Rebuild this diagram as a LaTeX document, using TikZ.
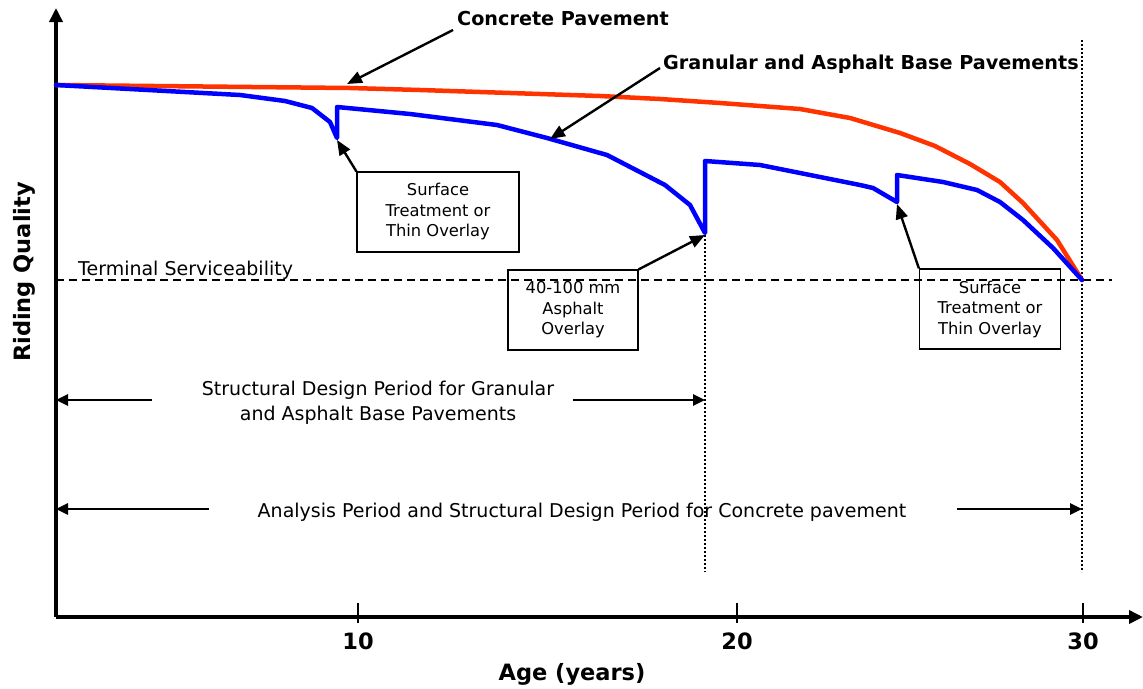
\documentclass[tikz,border=0pt]{standalone}
\usepackage{fontspec}
\setmainfont{DejaVu Sans}
\usetikzlibrary{arrows.meta}
\definecolor{rigid}{RGB}{255,51,0}
\definecolor{flex}{RGB}{0,0,255}
\begin{document}
\begin{tikzpicture}[x=1pt,y=-1pt,
  axis/.style={line width=4.5pt,-{Triangle[length=14pt,width=13pt]}},
  tickmark/.style={line width=2pt},
  curve/.style={line width=4.5pt,line join=round,line cap=round},
  boxtxt/.style={font=\fontsize{16.3}{20.5}\selectfont,align=center,inner sep=0pt},
  txt/.style={font=\fontsize{19}{25}\selectfont,align=center,inner sep=0pt},
  boldtxt/.style={font=\bfseries\fontsize{19.2}{22}\selectfont,inner sep=0pt},
  axistxt/.style={font=\bfseries\fontsize{22.5}{26}\selectfont,inner sep=0pt},
  callout/.style={draw,line width=1.2pt,boxtxt,minimum height=80pt},
  pointer/.style={line width=2.4pt,-{Triangle[length=15pt,width=12pt]}},
  span/.style={line width=2.8pt,-{Triangle[length=12pt,width=11pt]}},
  serviceline/.style={line width=2pt,dash pattern=on 8pt off 5pt},
  yearline/.style={line width=2.5pt,dash pattern=on 2pt off 2pt}]
\useasboundingbox (0,0) rectangle (1143,688);

% axes
\coordinate (origin) at (56,617);
\coordinate (ytop) at (56,8);
\coordinate (xend) at (1143,617);
\draw[axis] (origin) -- (ytop);
\draw[axis] (origin) -- (xend);

% ticks and tick labels
\foreach \x/\lab in {358/10,737/20,1083/30}{
  \draw[tickmark] (\x,603) -- (\x,623);
  \node[axistxt] (tick\lab) at (\x,641) {\lab};
}
\node[axistxt] (xlabel) at (572,674) {Age (years)};
\node[axistxt,rotate=90] (ylabel) at (24,272) {Riding Quality};

% terminal serviceability
\coordinate (ts0) at (56,280);
\coordinate (ts1) at (1112,280);
\draw[serviceline] (ts0) -- (ts1);
\node[txt,anchor=base west] (tslabel) at (78,275) {Terminal Serviceability};

% end-of-period markers
\coordinate (p20top) at (705,235);
\coordinate (p20bot) at (705,572);
\coordinate (p30top) at (1082,40);
\coordinate (p30bot) at (1082,572);
\draw[yearline] (p20top) -- (p20bot);
\draw[yearline] (p30top) -- (p30bot);

% concrete pavement
\draw[curve,rigid] (56,85) -- (350,88) -- (420,90) -- (600,96) -- (660,99)
  -- (720,103) -- (800,109) -- (850,118) -- (900,133) -- (935,146)
  -- (970,164) -- (1000,182) -- (1023,203) -- (1057,240) -- (1082,280);

% granular and asphalt base pavements
\draw[curve,flex] (56,85) -- (240,95) -- (285,101) -- (312,108) -- (330,122)
  -- (337,138) -- (337,107) -- (410,114) -- (497,125) -- (547,138)
  -- (607,155) -- (665,185) -- (690,205) -- (705,233) -- (705,161)
  -- (760,165) -- (860,185) -- (873,188) -- (897,202) -- (897,175)
  -- (943,182) -- (977,190) -- (1000,202) -- (1023,220) -- (1053,248)
  -- (1082,280);

% points on the curves
\coordinate (onrigid) at (347,84);
\coordinate (onflex) at (550,139);
\coordinate (dip1) at (337,140);
\coordinate (dip2) at (705,235);
\coordinate (dip3) at (897,204);

% curve labels
\node[boldtxt,anchor=west] (rigidlabel) at (457,19) {Concrete Pavement};
\node[boldtxt,anchor=west] (flexlabel) at (663,64) {Granular and Asphalt Base Pavements};
\draw[pointer] (453,30) -- (onrigid);
\draw[pointer] (660,68) -- (onflex);

% callouts
\node[callout,minimum width=162pt] (st1) at (438,212) {Surface\\Treatment or\\Thin Overlay};
\node[callout,minimum width=130pt] (ov) at (573,310) {40-100 mm\\Asphalt\\Overlay};
\node[callout,minimum width=141pt] (st2) at (990,309) {Surface\\Treatment or\\Thin Overlay};
\draw[pointer] (st1.north west) -- (dip1);
\draw[pointer] (ov.north east) -- (dip2);
\draw[pointer] (st2.north west) -- (dip3);

% periods
\node[txt] (sdp) at (378,403) {Structural Design Period for Granular\\and Asphalt Base Pavements};
\coordinate (sdpL) at (56,400);
\coordinate (sdpR) at (705,400);
\draw[span] (152,400) -- (sdpL);
\draw[span] (573,400) -- (sdpR);

\node[txt] (ap) at (582,512) {Analysis Period and Structural Design Period for Concrete pavement};
\coordinate (apL) at (56,509);
\coordinate (apR) at (1082,509);
\draw[span] (209,509) -- (apL);
\draw[span] (957,509) -- (apR);
\end{tikzpicture}
\end{document}
